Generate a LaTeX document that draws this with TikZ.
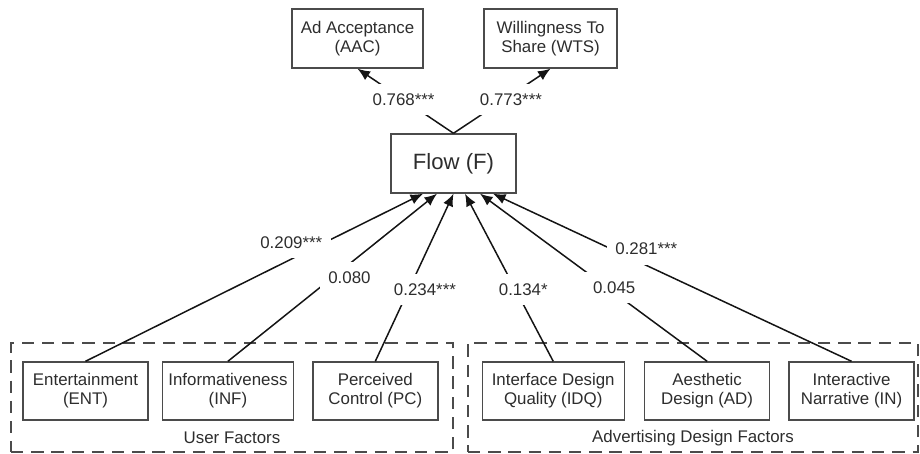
\documentclass[tikz,border=0pt]{standalone}
\usepackage{fontspec}
\setmainfont{Liberation Sans}
\usetikzlibrary{arrows.meta, positioning}
\definecolor{edg}{RGB}{20,20,20}
\definecolor{bord}{RGB}{75,75,75}
\definecolor{txt}{RGB}{45,45,45}
\tikzset{
  fac/.style={rectangle, draw=bord, line width=0.8pt, fill=white, align=center,
              minimum width=2.5cm, minimum height=1.16cm, inner sep=1pt, text=txt,
              font=\fontsize{9.6}{10.9}\selectfont},
  ar/.style={-{Latex[length=2.5mm, width=2.1mm]}, line width=0.85pt, draw=edg},
  % path coefficients (white box cuts the line)
  lbl/.style={fill=white, inner xsep=5pt, inner ysep=5.5pt, text=txt,
              font=\fontsize{9.6}{11}\selectfont},
  % dashed frame around a factor group
  grp/.style={rectangle, draw=bord, line width=0.8pt, dash pattern=on 7pt off 4.5pt},
  glbl/.style={text=txt, font=\fontsize{9.6}{11}\selectfont}
}

\begin{document}
\begin{tikzpicture}
    \useasboundingbox (0,0) rectangle (18.4,9.06);

    \node[grp, minimum width=8.84cm, minimum height=2.18cm] (ugrp) at (4.64,1.11) {};
    \node[grp, minimum width=9.0cm, minimum height=2.18cm] (agrp) at (13.86,1.11) {};
    \node[glbl] (ulbl) at (4.64,0.30) {User Factors};
    \node[glbl] (albl) at (13.86,0.30) {Advertising Design Factors};

    \node[fac] (ent) at (1.71,1.24) {Entertainment\\(ENT)};
    \node[fac, minimum width=2.62cm, right=0.26cm of ent] (inf) {Informativeness\\(INF)};
    \node[fac, right=0.36cm of inf] (pc) {Perceived\\Control (PC)};
    \node[fac, minimum width=2.84cm, right=0.86cm of pc] (idq) {Interface Design\\Quality (IDQ)};
    \node[fac, right=0.38cm of idq] (ad) {Aesthetic\\Design (AD)};
    \node[fac, right=0.36cm of ad] (inar) {Interactive\\Narrative (IN)};

    \node[fac, minimum height=1.18cm, font=\fontsize{12.6}{14}\selectfont] (flow) at (9.07,5.79) {Flow (F)};
    \node[fac, minimum width=2.62cm, minimum height=1.18cm] (aac) at (7.15,8.29) {Ad Acceptance\\(AAC)};
    \node[fac, minimum width=2.66cm, minimum height=1.18cm] (wts) at (11.01,8.29) {Willingness To\\Share (WTS)};

    \draw[ar] (flow.north) -- node[lbl, pos=0.52] {0.768***} (aac.south);
    \draw[ar] (flow.north) -- node[lbl, pos=0.52, xshift=0.14cm] {0.773***} (wts.south);

    \draw[ar] (ent.north) -- node[lbl, pos=0.66, xshift=-0.34cm, yshift=0.16cm] {0.209***} ([xshift=-0.61cm]flow.south);
    \draw[ar] (inf.north) -- node[lbl, pos=0.5, xshift=0.34cm] {0.080} ([xshift=-0.33cm]flow.south);
    \draw[ar] (pc.north) -- node[lbl, pos=0.43, xshift=0.32cm] {0.234***} (flow.south);
    \draw[ar] (idq.north) -- node[lbl, pos=0.43, xshift=0.16cm] {0.134*} ([xshift=0.23cm]flow.south);
    \draw[ar] (ad.north) -- node[lbl, pos=0.44, xshift=0.14cm] {0.045} ([xshift=0.53cm]flow.south);
    \draw[ar] (inar.north) -- node[lbl, pos=0.67, xshift=0.7cm] {0.281***} ([xshift=0.79cm]flow.south);
  \end{tikzpicture}
\end{document}
